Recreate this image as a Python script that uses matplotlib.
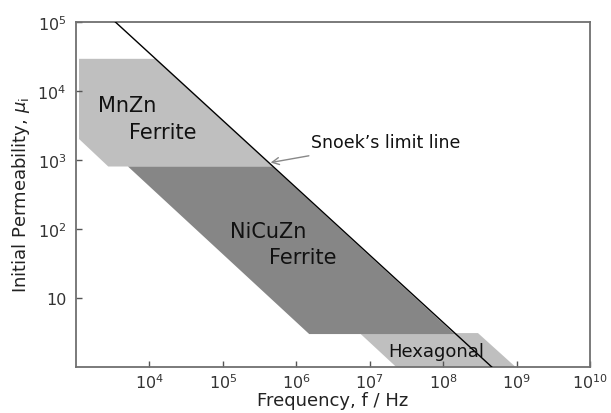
import matplotlib
matplotlib.use('Agg')
import matplotlib.pyplot as plt

''' Data read off the chart (frequency in Hz, initial permeability) '''
mnzn_f = [1.1e3, 1.2e4, 4.7e5, 2.75e3, 1.1e3]
mnzn_mu = [2.9e4, 2.9e4, 800, 800, 2000]

nicuzn_f = [5.1e3, 4.7e5, 1.43e8, 1.5e6]
nicuzn_mu = [800, 800, 3, 3]

hexa_f = [7.3e6, 2.98e8, 9.7e8, 2.3e7]
hexa_mu = [3.1, 3.1, 1, 1]

snoek_f = [3.4e3, 4.6e8]
snoek_mu = [1e5, 1]

x_ticks = [1e4, 1e5, 1e6, 1e7, 1e8, 1e9, 1e10]
x_labels = [r'$10^{4}$', r'$10^{5}$', r'$10^{6}$', r'$10^{7}$', r'$10^{8}$', r'$10^{9}$', r'$10^{10}$']
y_ticks = [10, 1e2, 1e3, 1e4, 1e5]
y_labels = ['10', r'$10^{2}$', r'$10^{3}$', r'$10^{4}$', r'$10^{5}$']

light = '#bfbfbf'
dark = '#868686'

fig = plt.figure(figsize=(6.11, 4.14), dpi=100)
ax = fig.add_axes([0.1244, 0.1111, 0.8412, 0.8341])
ax.set_xscale('log')
ax.set_yscale('log')
ax.set_xlim(1e3, 1e10)
ax.set_ylim(1, 1e5)

ax.fill(mnzn_f, mnzn_mu, color=light, lw=0, zorder=1)
ax.fill(hexa_f, hexa_mu, color=light, lw=0, zorder=1)
ax.fill(nicuzn_f, nicuzn_mu, color=dark, lw=0, zorder=2)
ax.plot(snoek_f, snoek_mu, color='black', lw=1.0, zorder=3)

ax.text(10**3.70, 10**3.79, 'MnZn', fontsize=15, ha='center', va='center', color='#111111')
ax.text(10**4.18, 10**3.40, 'Ferrite', fontsize=15, ha='center', va='center', color='#111111')
ax.text(10**5.62, 10**1.97, 'NiCuZn', fontsize=15, ha='center', va='center', color='#111111')
ax.text(10**6.09, 10**1.59, 'Ferrite', fontsize=15, ha='center', va='center', color='#111111')
ax.text(10**7.90, 10**0.23, 'Hexagonal', fontsize=13, ha='center', va='center', color='#111111', zorder=4)

ax.annotate("Snoek\u2019s limit line", xy=(10**5.65, 10**2.96), xytext=(10**6.207, 10**3.257),
            fontsize=12.5, ha='left', va='center', color='#111111',
            arrowprops=dict(arrowstyle='->', color='#888888', lw=1.0, shrinkA=8, shrinkB=0))

ax.set_xticks(x_ticks)
ax.set_xticklabels(x_labels)
ax.set_yticks(y_ticks)
ax.set_yticklabels(y_labels)
ax.minorticks_off()
ax.tick_params(direction='in', length=4, width=1, color='#555555', labelcolor='#333333', labelsize=11.5)
ax.tick_params(axis='x', pad=4)
ax.tick_params(axis='y', pad=7)

for s in ax.spines.values():
    s.set_color('#707070')
    s.set_linewidth(1.3)

ax.set_xlabel('Frequency, f / Hz', fontsize=13, color='#222222', labelpad=0)
ax.set_ylabel(r'Initial Permeability, $\mu_\mathrm{i}$', fontsize=13, color='#222222', labelpad=4)

fig.savefig('out.png', dpi=100)
